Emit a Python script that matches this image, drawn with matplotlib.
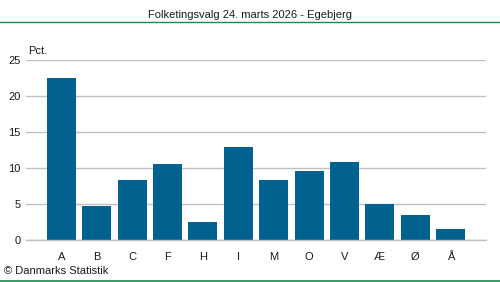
import matplotlib
matplotlib.use('Agg')
import matplotlib.pyplot as plt

parties = ['A', 'B', 'C', 'F', 'H', 'I', 'M', 'O', 'V', 'Æ', 'Ø', 'Å']
pct = [22.4, 4.75, 8.3, 10.5, 2.5, 12.9, 8.3, 9.55, 10.8, 5.0, 3.45, 1.5]
yticks = [0, 5, 10, 15, 20, 25]

plt.rcParams['font.family'] = ['Liberation Sans', 'DejaVu Sans']

fig = plt.figure(figsize=(5, 2.82), dpi=100)
W, H = 500, 282
ax = fig.add_axes([26 / W, 1 - 240 / H, 460 / W, (240 - 59.5) / H])

ax.bar(range(len(parties)), pct, width=0.82, color='#02628f', zorder=2)
ax.set_xlim(-1, len(parties))
ax.set_ylim(0, 25)
ax.set_yticks(yticks)
ax.set_xticks(range(len(parties)))
ax.set_xticklabels(parties)
ax.yaxis.grid(True, color='#bfbfc9', linewidth=1)
ax.axhline(0, color='#bfbfc9', linewidth=1, clip_on=False, zorder=3)
ax.set_axisbelow(True)
for s in ax.spines.values():
    s.set_visible(False)
ax.tick_params(length=0, labelsize=8, colors='#1a1a1a')
ax.tick_params(axis='x', pad=9)
ax.tick_params(axis='y', pad=4)

# header and footer
fig.text(250 / W, 1 - 15 / H, 'Folketingsvalg 24. marts 2026 - Egebjerg',
         ha='center', va='center', fontsize=8, color='#1a1a1a')
fig.add_artist(plt.Line2D([0, 1], [1 - 22 / H, 1 - 22 / H], color='#1a8a4a', linewidth=1))
fig.add_artist(plt.Line2D([0, 1], [1 - 281 / H, 1 - 281 / H], color='#1a8a4a', linewidth=1.2))
fig.text(28 / W, 1 - 51 / H, 'Pct.', ha='left', va='center', fontsize=8, color='#1a1a1a')
fig.text(4 / W, 1 - 271 / H, '© Danmarks Statistik', ha='left', va='center',
         fontsize=8, color='#1a1a1a')

fig.savefig('out.png', dpi=100)
